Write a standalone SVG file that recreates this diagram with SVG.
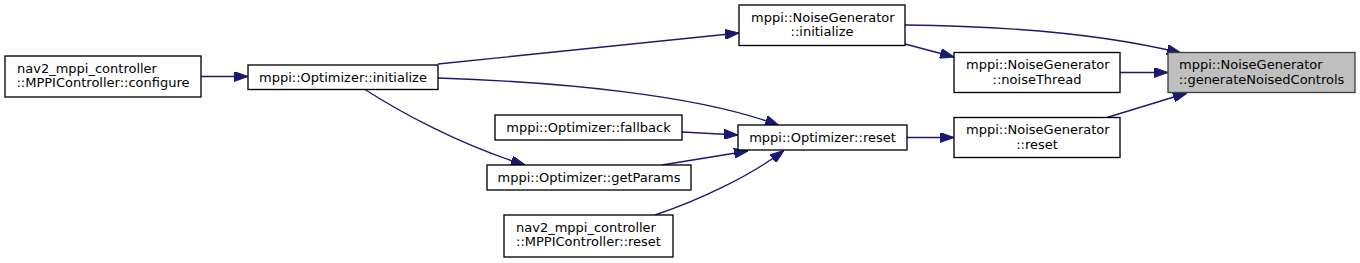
<svg xmlns="http://www.w3.org/2000/svg" width="1360" height="263" viewBox="0 0 1360 263">
<style>
.node rect{fill:#ffffff;stroke:#000000;stroke-width:1.33}
.node.cur rect{fill:#bfbfbf;stroke:#404040}
.node text{font-family:"DejaVu Sans",sans-serif;font-size:13px;fill:#000000}
.s{text-anchor:start}
.m{text-anchor:middle}
#edges path{fill:none;stroke:#191970;stroke-width:1.33}
</style>
<defs>
<marker id="ah" markerUnits="userSpaceOnUse" markerWidth="14" markerHeight="10" viewBox="0 0 14 10" refX="14" refY="5" orient="auto">
<path d="M0,0 L14,5 L0,10 z" fill="#191970" stroke="#191970"/>
</marker>
</defs>
<rect x="0" y="0" width="1360" height="263" fill="#ffffff"/>
<g id="edges">
<path d="M201,76.5 L248,76.5" marker-end="url(#ah)"/>
<path d="M438,64 L739,33" marker-end="url(#ah)"/>
<path d="M438,78 C560,82 700,95 779,125.5" marker-end="url(#ah)"/>
<path d="M365,89.5 C400,112 460,145 525,165" marker-end="url(#ah)"/>
<path d="M682,132 L738,135" marker-end="url(#ah)"/>
<path d="M662,165 L748,151" marker-end="url(#ah)"/>
<path d="M655,215 C700,200 750,176 784,150.5" marker-end="url(#ah)"/>
<path d="M907,137.5 L954,137.5" marker-end="url(#ah)"/>
<path d="M905,44 L954,57" marker-end="url(#ah)"/>
<path d="M905,25 C1000,26 1100,33 1181,53" marker-end="url(#ah)"/>
<path d="M1120,72.5 L1168,72.5" marker-end="url(#ah)"/>
<path d="M1107,117.5 L1187,93" marker-end="url(#ah)"/>
</g>
<g id="node1" class="node cur">
<rect x="1168" y="52.5" width="187" height="40"/>
<text class="s" x="1179" y="69">mppi::NoiseGenerator</text>
<text class="m" x="1261.5" y="83.5">::generateNoisedControls</text>
</g>
<g id="node2" class="node">
<rect x="739" y="5" width="166" height="40.5"/>
<text class="s" x="751" y="21.7">mppi::NoiseGenerator</text>
<text class="m" x="822" y="36.2">::initialize</text>
</g>
<g id="node3" class="node">
<rect x="248" y="65" width="190" height="24.5"/>
<text class="m" x="343" y="81.5">mppi::Optimizer::initialize</text>
</g>
<g id="node4" class="node">
<rect x="5" y="56" width="196" height="41"/>
<text class="s" x="17" y="72.5">nav2_mppi_controller</text>
<text class="m" x="103" y="87">::MPPIController::configure</text>
</g>
<g id="node5" class="node">
<rect x="738" y="125" width="169" height="25"/>
<text class="m" x="822.5" y="142">mppi::Optimizer::reset</text>
</g>
<g id="node6" class="node">
<rect x="495" y="115" width="187" height="25"/>
<text class="m" x="588.5" y="132">mppi::Optimizer::fallback</text>
</g>
<g id="node7" class="node">
<rect x="487" y="165" width="204" height="25"/>
<text class="m" x="589" y="182">mppi::Optimizer::getParams</text>
</g>
<g id="node8" class="node">
<rect x="504" y="215" width="169" height="42"/>
<text class="s" x="516" y="231.5">nav2_mppi_controller</text>
<text class="m" x="588.5" y="246">::MPPIController::reset</text>
</g>
<g id="node9" class="node">
<rect x="954" y="52.5" width="166" height="40"/>
<text class="s" x="966" y="69">mppi::NoiseGenerator</text>
<text class="m" x="1037" y="83.5">::noiseThread</text>
</g>
<g id="node10" class="node">
<rect x="954" y="117.5" width="166" height="40"/>
<text class="s" x="966" y="134">mppi::NoiseGenerator</text>
<text class="m" x="1037" y="148.5">::reset</text>
</g>
</svg>
